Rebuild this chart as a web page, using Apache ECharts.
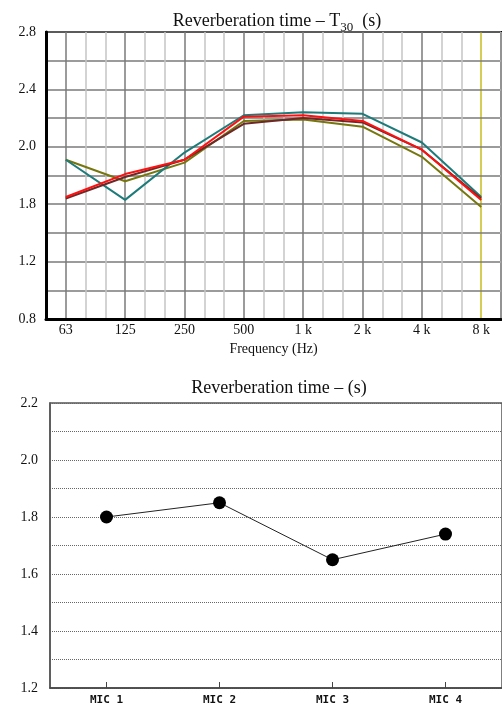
<!DOCTYPE html>
<html>
<head>
<meta charset="utf-8">
<script src="https://cdn.jsdelivr.net/npm/echarts@6/dist/echarts.min.js"></script>
<style>
  html, body { margin: 0; padding: 0; background: #ffffff; }
  #chart { width: 502px; height: 709px; }
</style>
</head>
<body>
<div id="chart"></div>
<script>
// One-third-octave band centres spanning the frequency axis
const bands = ['50', '63', '80', '100', '125', '160', '200', '250', '315', '400', '500', '630',
  '800', '1 k', '1.25 k', '1.6 k', '2 k', '2.5 k', '3.15 k', '4 k', '5 k', '6.3 k', '8 k', '10 k'];
// Octave bands that carry measurements and labels
const octaves = ['63', '125', '250', '500', '1 k', '2 k', '4 k', '8 k'];

// T30 per octave band (s), one array per measurement
const t30Olive = [1.91, 1.76, 1.89, 2.18, 2.19, 2.14, 1.93, 1.58];
const t30Teal  = [1.91, 1.63, 1.96, 2.22, 2.24, 2.23, 2.03, 1.65];
const t30Brown = [1.64, 1.79, 1.91, 2.16, 2.20, 2.17, 1.98, 1.64];
const t30Red   = [1.65, 1.81, 1.91, 2.21, 2.22, 2.18, 1.98, 1.63];

// Frequency-chart y tick labels as printed on the axis
const t30TickValues = [0.8, 1.2, 1.6, 2.0, 2.4, 2.8];
const t30TickLabels = ['0.8', '1.2', '1.8', '2.0', '2.4', '2.8'];

// Reverberation time per microphone position (s)
const mics = ['MIC 1', 'MIC 2', 'MIC 3', 'MIC 4'];
const micRT = [1.80, 1.85, 1.65, 1.74];

const serif = "'Liberation Serif', 'DejaVu Serif', serif";
const octaveSet = new Set(octaves);

function bandSeries(values) {
  return octaves.map((b, i) => [b, values[i]]);
}

function t30Line(name, values, color, z) {
  return {
    name: name,
    type: 'line',
    xAxisIndex: 0,
    yAxisIndex: 0,
    data: bandSeries(values),
    symbol: 'none',
    lineStyle: { color: color, width: 2 },
    z: z,
    silent: true
  };
}

const chart = echarts.init(document.getElementById('chart'), null, { renderer: 'canvas' });

chart.setOption({
  animation: false,
  backgroundColor: '#ffffff',
  title: [
    {
      text: '{a|Reverberation time – T}{s|30}{a|  (s)}',
      left: 272,
      top: 3,
      textAlign: 'center',
      textStyle: {
        fontWeight: 'normal',
        rich: {
          a: { fontFamily: serif, fontSize: 18, fontWeight: 'normal', color: '#111', lineHeight: 22, verticalAlign: 'bottom' },
          s: { fontFamily: serif, fontSize: 13, fontWeight: 'normal', color: '#111', lineHeight: 22, verticalAlign: 'bottom', padding: [0, 0, -4, 0] }
        }
      }
    },
    {
      text: 'Reverberation time – (s)',
      left: 274,
      top: 374,
      textAlign: 'center',
      textStyle: { fontFamily: serif, fontSize: 18, fontWeight: 'normal', color: '#111' }
    }
  ],
  grid: [
    { left: 46, right: 1, top: 32, height: 287, show: true, borderColor: '#000', borderWidth: 2, backgroundColor: '#fff' },
    { left: 50, right: -6, top: 403, height: 285, show: true, borderColor: '#555', borderWidth: 1.5, backgroundColor: '#fff' }
  ],
  xAxis: [
    {
      // Third-octave grid lines and octave labels
      type: 'category',
      gridIndex: 0,
      data: bands,
      boundaryGap: false,
      axisLine: { show: true, lineStyle: { color: '#000', width: 3 } },
      axisTick: { show: false },
      axisLabel: {
        interval: (i, v) => octaveSet.has(v),
        fontFamily: serif, fontSize: 14, color: '#111', margin: 4
      },
      splitLine: {
        show: true,
        interval: (i, v) => !octaveSet.has(v),
        lineStyle: { color: '#c4c4c4', width: 1.5 }
      },
      name: 'Frequency (Hz)',
      nameLocation: 'middle',
      nameGap: 23,
      nameTextStyle: { fontFamily: serif, fontSize: 14, color: '#111' },
      z: 3
    },
    {
      // Octave grid lines
      type: 'category',
      gridIndex: 0,
      data: bands,
      boundaryGap: false,
      axisLine: { show: false },
      axisTick: { show: false },
      axisLabel: { show: false },
      splitLine: {
        show: true,
        interval: (i, v) => octaveSet.has(v) && v !== '8 k',
        lineStyle: { color: '#7a7a7a', width: 1.5 }
      }
    },
    {
      // 8 kHz marker line
      type: 'category',
      gridIndex: 0,
      data: bands,
      boundaryGap: false,
      axisLine: { show: false },
      axisTick: { show: false },
      axisLabel: { show: false },
      splitLine: {
        show: true,
        interval: (i, v) => v === '8 k',
        lineStyle: { color: '#c9bc1c', width: 1.5 }
      }
    },
    {
      type: 'category',
      gridIndex: 1,
      data: mics,
      boundaryGap: true,
      axisLine: { show: true, lineStyle: { color: '#444', width: 1.5 } },
      axisTick: { show: true, inside: true, alignWithLabel: true, length: 6, lineStyle: { color: '#444', width: 1 } },
      axisLabel: { fontFamily: "'DejaVu Sans Mono', 'Liberation Mono', monospace", fontSize: 11, fontWeight: 'bold', color: '#111', margin: 7 },
      splitLine: { show: false }
    }
  ],
  yAxis: [
    {
      type: 'value',
      gridIndex: 0,
      min: 0.8,
      max: 2.8,
      interval: 0.2,
      axisLine: { show: true, lineStyle: { color: '#000', width: 3 } },
      axisTick: { show: false },
      axisLabel: {
        fontFamily: serif, fontSize: 14, color: '#111', margin: 10,
        formatter: function (v) {
          const k = t30TickValues.findIndex(t => Math.abs(t - v) < 1e-6);
          return k >= 0 ? t30TickLabels[k] : '';
        }
      },
      splitLine: { show: true, lineStyle: { color: '#7a7a7a', width: 1.5 } },
      z: 3
    },
    {
      type: 'value',
      gridIndex: 1,
      min: 1.2,
      max: 2.2,
      interval: 0.1,
      axisLine: { show: true, lineStyle: { color: '#555', width: 1.5 } },
      axisTick: { show: false },
      axisLabel: {
        fontFamily: serif, fontSize: 14, color: '#111', margin: 12,
        formatter: function (v) {
          return Math.round(v * 10) % 2 === 0 ? v.toFixed(1) : '';
        }
      },
      splitLine: { show: true, lineStyle: { color: '#666', width: 1, type: [1, 1] } }
    }
  ],
  series: [
    t30Line('T30 olive', t30Olive, '#76760e', 10),
    t30Line('T30 teal', t30Teal, '#1d7b7a', 11),
    t30Line('T30 brown', t30Brown, '#6e2828', 12),
    t30Line('T30 red', t30Red, '#ff1010', 13),
    {
      name: 'MIC RT',
      type: 'line',
      xAxisIndex: 3,
      yAxisIndex: 1,
      data: micRT,
      symbol: 'circle',
      symbolSize: 13,
      itemStyle: { color: '#000' },
      lineStyle: { color: '#222', width: 1 },
      silent: true,
      z: 10
    }
  ]
});
</script>
</body>
</html>
